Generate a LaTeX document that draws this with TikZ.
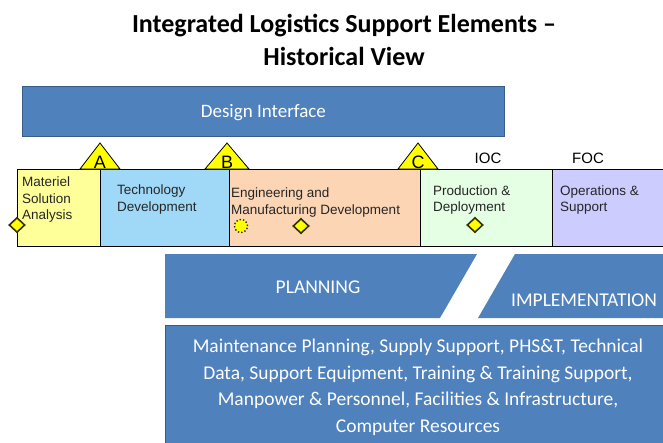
\documentclass[tikz,border=0pt]{standalone}
\usepackage{fontspec}
\usetikzlibrary{shapes.geometric}
\setmainfont{Carlito}
\newfontfamily\arialf{Liberation Sans}
\definecolor{obl}{HTML}{4F81BD}
\definecolor{obld}{HTML}{385D8A}
\definecolor{cyel}{HTML}{FFFF99}
\definecolor{cblu}{HTML}{A0D8F8}
\definecolor{cpea}{HTML}{FCD5B5}
\definecolor{cgrn}{HTML}{E4FFE4}
\definecolor{clav}{HTML}{CCCCFF}
\definecolor{mstn}{HTML}{FFFF00}
\definecolor{mdk}{HTML}{333300}
\begin{document}
\begin{tikzpicture}[x=1pt,y=-1pt,
  phasebox/.style={draw=black,line width=0.8pt},
  phasetxt/.style={font=\arialf\fontsize{13.5}{16.5}\selectfont,align=left,anchor=west,inner sep=0pt,text=black!85},
  bluebox/.style={fill=obl,draw=obld,line width=0.8pt},
  whitetxt/.style={text=white,inner sep=0pt},
  msttri/.style={fill=mstn,draw=black,line width=0.8pt},
  msttxt/.style={font=\arialf\fontsize{18}{18}\selectfont,inner sep=0pt,anchor=base},
  msdiam/.style={diamond,fill=mstn,draw=mdk,line width=1.6pt,minimum width=16pt,minimum height=15pt,inner sep=0pt},
  ioctxt/.style={font=\arialf\fontsize{15}{15}\selectfont,inner sep=0pt}
]
\useasboundingbox (0,0) rectangle (663,442);
\clip (0,0) rectangle (663,442);
\fill[white] (0,0) rectangle (663,442);
% title
\node[font=\bfseries\fontsize{26}{33}\selectfont,align=center,inner sep=0pt] (title) at (344,39.5)
  {Integrated Logistics Support Elements --\\Historical View};
% design interface
\node[bluebox,minimum width=482pt,minimum height=50pt,anchor=north west,inner sep=0pt] (di) at (22,86) {};
\node[whitetxt,font=\fontsize{19}{22}\selectfont] (ditxt) at ([yshift=-1pt]di.center) {Design Interface};
% phases
\draw[phasebox,fill=cyel] (17,169) rectangle (100,246);
\draw[phasebox,fill=cblu] (100,169) rectangle (229,246);
\draw[phasebox,fill=cpea] (229,169) rectangle (420,246);
\draw[phasebox,fill=cgrn] (420,169) rectangle (552,246);
\draw[phasebox,fill=clav] (552,169) rectangle (680,246);
\node[phasetxt] (msa) at (22,200) {Materiel\\Solution\\Analysis};
\node[phasetxt] (td) at (117,199.5) {Technology\\Development};
\node[phasetxt] (emd) at (231,202.5) {Engineering and\\Manufacturing Development};
\node[phasetxt] (pd) at (433,200) {Production \&\\Deployment};
\node[phasetxt] (os) at (560,200) {Operations \&\\Support};
% milestones
\draw[msttri] (100,143) -- (120,169) -- (80,169) -- cycle;
\draw[msttri] (227,143) -- (249,169) -- (205,169) -- cycle;
\draw[msttri] (418,143) -- (438,169) -- (398,169) -- cycle;
\node[msttxt] (ma) at (100,168) {A};
\node[msttxt] (mb) at (227,168) {B};
\node[msttxt] (mc) at (418,168) {C};
\node[ioctxt] (ioc) at (488,158) {IOC};
\node[ioctxt] (foc) at (588,158) {FOC};
% diamonds
\node[msdiam] (d1) at (17,225) {};
\node[msdiam] (d2) at (301,226) {};
\node[msdiam] (d3) at (475,225) {};
\draw[fill=mstn,draw=mdk,line width=1.4pt,dash pattern=on 1.4pt off 2pt] (241,226) circle (6.5pt);
% planning / implementation
\fill[obl] (165,254) -- (477,254) -- (440,318) -- (165,318) -- cycle;
\fill[obl] (515,254) -- (680,254) -- (680,318) -- (478,318) -- cycle;
\node[whitetxt,font=\fontsize{19.5}{22}\selectfont] (plan) at (318,287) {PLANNING};
\node[whitetxt,font=\fontsize{19.5}{22}\selectfont] (impl) at (584,300) {IMPLEMENTATION};
% elements box
\draw[bluebox] (165,325) rectangle (680,460);
\node[whitetxt,font=\fontsize{19.5}{26.5}\selectfont,align=center] (elem) at (418,387.5)
  {Maintenance Planning, Supply Support, PHS\&T, Technical\\Data, Support Equipment, Training \& Training Support,\\Manpower \& Personnel, Facilities \& Infrastructure,\\Computer Resources};
\end{tikzpicture}
\end{document}
